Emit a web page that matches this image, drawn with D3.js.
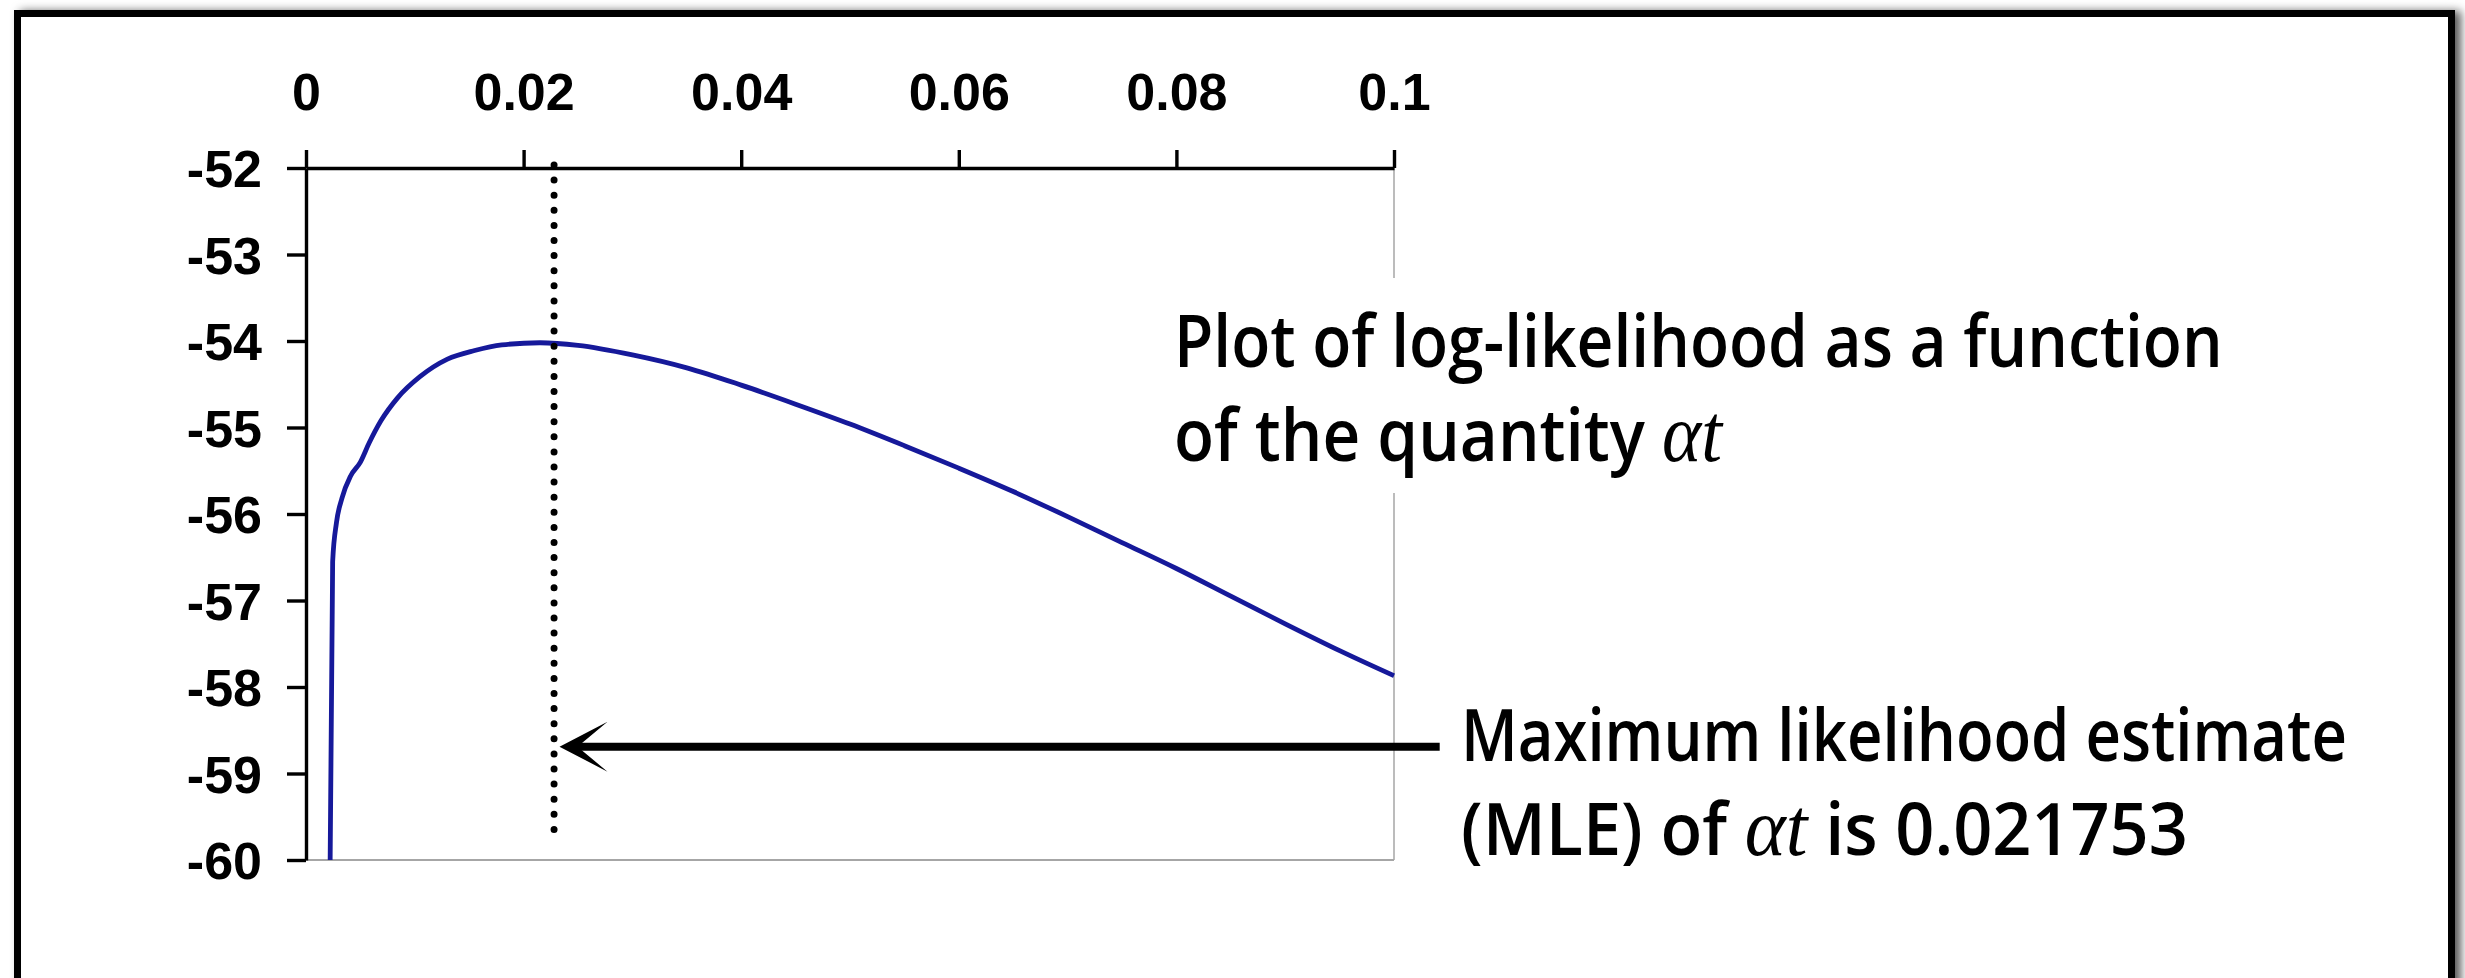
<!DOCTYPE html>
<html>
<head>
<meta charset="utf-8">
<script src="https://cdn.jsdelivr.net/npm/d3@7"></script>
<style>
  html, body { margin: 0; padding: 0; background: #ffffff; }
  svg { display: block; }
</style>
</head>
<body>
<script>
// ---------------- data ----------------
const alphaT = [0.00222, 0.00245, 0.0028, 0.0033, 0.0041, 0.0050, 0.0058, 0.0069, 0.0084, 0.0105,
                0.0130, 0.0155, 0.0180, 0.0215, 0.025, 0.030, 0.035, 0.040, 0.045, 0.050,
                0.055, 0.060, 0.065, 0.070, 0.075, 0.080, 0.085, 0.090, 0.095, 0.100];
const logLik = [-60.0, -56.55, -56.1, -55.82, -55.56, -55.40, -55.18, -54.92, -54.66, -54.41,
                -54.21, -54.11, -54.045, -54.02, -54.05, -54.16, -54.31, -54.51, -54.73, -54.96,
                -55.21, -55.47, -55.74, -56.03, -56.33, -56.63, -56.95, -57.27, -57.58, -57.87];
const xTickValues = [0, 0.02, 0.04, 0.06, 0.08, 0.1];
const xTickLabels = ["0", "0.02", "0.04", "0.06", "0.08", "0.1"];
const yTickValues = [-52, -53, -54, -55, -56, -57, -58, -59, -60];
const yTickLabels = ["-52", "-53", "-54", "-55", "-56", "-57", "-58", "-59", "-60"];
const mleMarkerX = 0.0228;          // where the dotted marker is drawn
const mleMarkerY = [-52, -59.8];
const arrowY = -58.69;
const arrowFromX = 0.1042;
const arrowToX = 0.0233;
const note1 = [["Plot of log-likelihood as a function", ""], ["of the quantity ", "\u03B1t"]];
const note2 = [["Maximum likelihood estimate", ""], ["(MLE) of ", "\u03B1t", " is 0.021753"]];

// ---------------- layout ----------------
const W = 2465, H = 978;
const svg = d3.select("body").append("svg").attr("width", W).attr("height", H);

const defs = svg.append("defs");
const f = defs.append("filter").attr("id", "shadow")
  .attr("x", -0.02).attr("y", -0.05).attr("width", 1.04).attr("height", 1.2);
f.append("feDropShadow").attr("dx", 6).attr("dy", 1).attr("stdDeviation", 5)
  .attr("flood-color", "#000").attr("flood-opacity", 0.65);

// slide frame
svg.append("rect")
  .attr("x", 17.5).attr("y", 13.5).attr("width", 2434).attr("height", 1040)
  .attr("fill", "#fff").attr("stroke", "#000").attr("stroke-width", 7)
  .attr("filter", "url(#shadow)");

const x = d3.scaleLinear().domain([0, 0.1]).range([306, 1394]);
const y = d3.scaleLinear().domain([-52, -60]).range([168, 860]);

// plot area borders (right and bottom, light grey)
svg.append("line").attr("x1", x(0.1)).attr("x2", x(0.1)).attr("y1", y(-52)).attr("y2", y(-60))
  .attr("stroke", "#a6a6a6").attr("stroke-width", 1.5);
svg.append("line").attr("x1", x(0)).attr("x2", x(0.1)).attr("y1", y(-60)).attr("y2", y(-60))
  .attr("stroke", "#a6a6a6").attr("stroke-width", 2);

// curve
const line = d3.line().x((d, i) => x(alphaT[i])).y(d => y(d)).curve(d3.curveMonotoneX);
svg.append("path").datum(logLik).attr("d", line)
  .attr("fill", "none").attr("stroke", "#16199a").attr("stroke-width", 4.8)
  .attr("stroke-linejoin", "round");

// axes
const axisFont = "'Liberation Sans', Arial, sans-serif";
const xAxis = d3.axisTop(x).tickValues(xTickValues)
  .tickFormat((d, i) => xTickLabels[i]).tickSize(18).tickSizeOuter(0).tickPadding(40);
const gx = svg.append("g").attr("transform", `translate(0,${y(-52)})`).call(xAxis);
const yAxis = d3.axisLeft(y).tickValues(yTickValues)
  .tickFormat((d, i) => yTickLabels[i]).tickSize(19).tickSizeOuter(0).tickPadding(25);
const gy = svg.append("g").attr("transform", `translate(${x(0)},0)`).call(yAxis);
[gx, gy].forEach(g => {
  g.selectAll("path.domain").attr("stroke", "#000").attr("stroke-width", 3.4);
  g.selectAll(".tick line").attr("stroke", "#000").attr("stroke-width", 3.4);
  g.selectAll(".tick text").attr("fill", "#000")
    .style("font-family", axisFont).style("font-weight", "bold").style("font-size", "52px");
});
gy.selectAll(".tick text").attr("dy", "0.36em");

// white box behind the first note (hides the grey border)
svg.append("rect").attr("x", 1160).attr("y", 278).attr("width", 1080).attr("height", 215).attr("fill", "#fff");

// dotted MLE marker
svg.append("line")
  .attr("x1", x(mleMarkerX)).attr("x2", x(mleMarkerX))
  .attr("y1", y(mleMarkerY[0]) - 3).attr("y2", y(mleMarkerY[1]))
  .attr("stroke", "#000").attr("stroke-width", 7)
  .attr("stroke-linecap", "round").attr("stroke-dasharray", "0 15.1");

// arrow
const tipX = x(arrowToX), ay = y(arrowY);
svg.append("line").attr("x1", x(arrowFromX)).attr("x2", tipX + 16).attr("y1", ay).attr("y2", ay)
  .attr("stroke", "#000").attr("stroke-width", 8);
svg.append("path")
  .attr("d", `M${tipX},${ay} L${tipX + 48},${ay - 25} L${tipX + 18},${ay} L${tipX + 48},${ay + 25} Z`)
  .attr("fill", "#000");

// annotation text
const noteFont = "'Open Sans', 'Noto Sans', sans-serif";
function note(lines, x0, baselines, widths) {
  lines.forEach((parts, i) => {
    const g = svg.append("g").attr("transform", `translate(${x0},${baselines[i]})`);
    const t = g.append("text").attr("x", 0).attr("y", 0).attr("fill", "#000")
      .style("font-family", noteFont).style("font-size", "72px").style("font-weight", "600");
    parts.forEach((p, j) => {
      if (!p) return;
      const ts = t.append("tspan").text(p);
      if (p === "\u03B1t") {
        ts.style("font-family", "'Liberation Serif', 'Times New Roman', serif")
          .style("font-style", "italic").style("font-weight", "normal").style("font-size", "82px");
      }
    });
    const w = t.node().getComputedTextLength();
    t.attr("transform", `scale(${widths[i] / w},1)`);
  });
}
note(note1, 1174, [367, 461], [1049, 548]);
note(note2, 1461, [761, 855], [886, 727]);
</script>
</body>
</html>
